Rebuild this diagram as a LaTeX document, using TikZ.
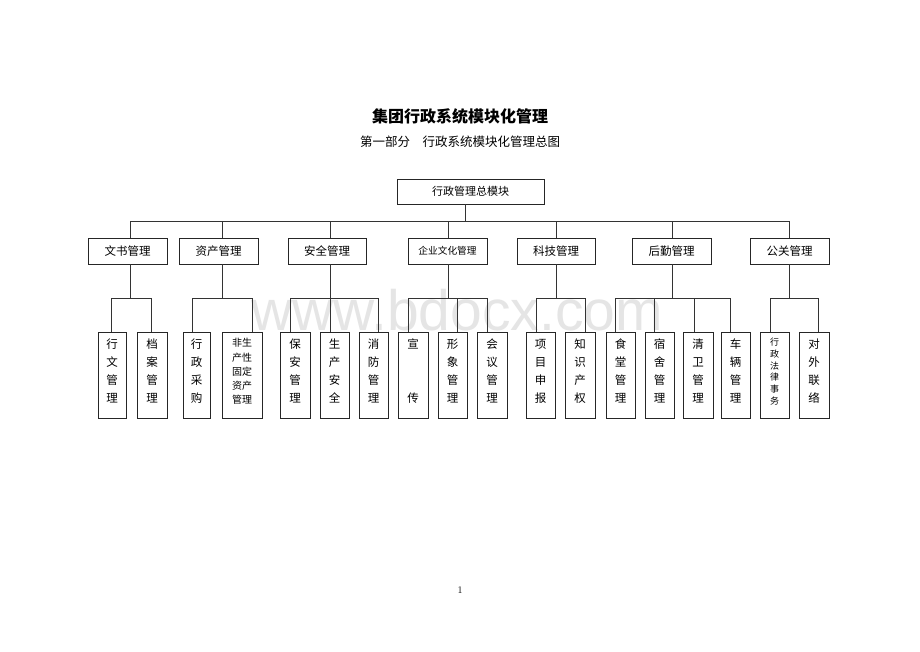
\documentclass[tikz,border=0pt]{standalone}
\usepackage{fontspec}
\newfontfamily\cjk{Noto Sans CJK SC}
\newfontfamily\wmfont{Liberation Sans}
\begin{document}
\begin{tikzpicture}[x=1pt,y=-1pt,
  box/.style={draw=black!85, line width=0.8pt, rectangle, inner sep=0pt},
  midbox/.style={box, minimum height=26, font=\cjk\fontsize{11.5}{12}\selectfont},
  leafbox/.style={box, minimum height=86},
  leaftext/.style={align=center, inner sep=0pt, font=\cjk\fontsize{11.5}{18}\selectfont},
  conn/.style={draw=black!80, line width=0.8pt}]
\useasboundingbox (0,0) rectangle (920,651);
\fill[white] (0,0) rectangle (920,651);
% watermark
\node[font=\wmfont\fontsize{57}{57}\selectfont, text=black!10, inner sep=0pt, anchor=base] (wm) at (457,330) {www.bdocx.com};
% titles
\node[font=\cjk\bfseries\fontsize{16}{16}\selectfont, inner sep=0pt] (title) at (460,116) {集团行政系统模块化管理};
\node[font=\cjk\fontsize{12.5}{13}\selectfont, inner sep=0pt] (subtitle) at (460,142) {第一部分\hspace{1em}行政系统模块化管理总图};
% top box
\node[box, minimum width=147, minimum height=25, font=\cjk\fontsize{11}{11}\selectfont] (top) at (470.5,191.5) {行政管理总模块};
\coordinate (bus) at (0,221);
\coordinate (sb) at (0,298);
% level 2
\node[midbox, minimum width=79] (wenshu) at (127.5,251) {文书管理};
\node[midbox, minimum width=79] (zichan) at (218.5,251) {资产管理};
\node[midbox, minimum width=78] (anquan) at (327,251) {安全管理};
\node[midbox, minimum width=79, font=\cjk\fontsize{9.7}{10}\selectfont] (wenhua) at (447.5,251) {企业文化管理};
\node[midbox, minimum width=78] (keji) at (556,251) {科技管理};
\node[midbox, minimum width=79] (houqin) at (671.5,251) {后勤管理};
\node[midbox, minimum width=79] (gongguan) at (789.5,251) {公关管理};
% leaves
\node[leafbox, minimum width=28] (w1) at (112,375) {};
\node[leafbox, minimum width=30] (w2) at (152,375) {};
\node[leafbox, minimum width=27] (z1) at (196.5,375) {};
\node[leafbox, minimum width=40] (z2) at (242,375) {};
\node[leafbox, minimum width=30] (a1) at (295,375) {};
\node[leafbox, minimum width=29] (a2) at (334.5,375) {};
\node[leafbox, minimum width=29] (a3) at (373.5,375) {};
\node[leafbox, minimum width=30] (c1) at (413,375) {};
\node[leafbox, minimum width=29] (c2) at (452.5,375) {};
\node[leafbox, minimum width=30] (c3) at (492,375) {};
\node[leafbox, minimum width=29] (k1) at (540.5,375) {};
\node[leafbox, minimum width=30] (k2) at (580,375) {};
\node[leafbox, minimum width=29] (h1) at (620.5,375) {};
\node[leafbox, minimum width=29] (h2) at (659.5,375) {};
\node[leafbox, minimum width=30] (h3) at (698,375) {};
\node[leafbox, minimum width=29] (h4) at (735.5,375) {};
\node[leafbox, minimum width=29] (g1) at (774.5,375) {};
\node[leafbox, minimum width=30] (g2) at (814,375) {};
% leaf texts
\node[leaftext] (w1t) at ([yshift=4pt]w1.center) {行\\文\\管\\理};
\node[leaftext] (w2t) at ([yshift=4pt]w2.center) {档\\案\\管\\理};
\node[leaftext] (z1t) at ([yshift=4pt]z1.center) {行\\政\\采\\购};
\node[leaftext, font=\cjk\fontsize{10}{14.3}\selectfont] (z2t) at ([yshift=3.5pt]z2.center) {非生\\产性\\固定\\资产\\管理};
\node[leaftext] (a1t) at ([yshift=4pt]a1.center) {保\\安\\管\\理};
\node[leaftext] (a2t) at ([yshift=4pt]a2.center) {生\\产\\安\\全};
\node[leaftext] (a3t) at ([yshift=4pt]a3.center) {消\\防\\管\\理};
\node[leaftext] (c1t) at ([yshift=4pt]c1.center) {宣\\[36pt]传};
\node[leaftext] (c2t) at ([yshift=4pt]c2.center) {形\\象\\管\\理};
\node[leaftext] (c3t) at ([yshift=4pt]c3.center) {会\\议\\管\\理};
\node[leaftext] (k1t) at ([yshift=4pt]k1.center) {项\\目\\申\\报};
\node[leaftext] (k2t) at ([yshift=4pt]k2.center) {知\\识\\产\\权};
\node[leaftext] (h1t) at ([yshift=4pt]h1.center) {食\\堂\\管\\理};
\node[leaftext] (h2t) at ([yshift=4pt]h2.center) {宿\\舍\\管\\理};
\node[leaftext] (h3t) at ([yshift=4pt]h3.center) {清\\卫\\管\\理};
\node[leaftext] (h4t) at ([yshift=4pt]h4.center) {车\\辆\\管\\理};
\node[leaftext, font=\cjk\fontsize{9}{11.8}\selectfont] (g1t) at ([yshift=3.5pt]g1.center) {行\\政\\法\\律\\事\\务};
\node[leaftext] (g2t) at ([yshift=4pt]g2.center) {对\\外\\联\\络};
% top connectors
\draw[conn] ([xshift=-5.5pt]top.south) -- ([xshift=-5.5pt]top.south |- bus);
\draw[conn] ([xshift=2.5pt]wenshu.north) |- ([xshift=-0.5pt]gongguan.north |- bus) -- ([xshift=-0.5pt]gongguan.north);
\draw[conn] ([xshift=3.5pt]zichan.north) -- ([xshift=3.5pt]zichan.north |- bus);
\draw[conn] ([xshift=3pt]anquan.north) -- ([xshift=3pt]anquan.north |- bus);
\draw[conn] ([xshift=0.5pt]wenhua.north) -- ([xshift=0.5pt]wenhua.north |- bus);
\draw[conn] (keji.north) -- (keji.north |- bus);
\draw[conn] ([xshift=0.5pt]houqin.north) -- ([xshift=0.5pt]houqin.north |- bus);
% wenshu group
\draw[conn] ([xshift=2.5pt]wenshu.south) -- ([xshift=2.5pt]wenshu.south |- sb);
\draw[conn] ([xshift=-1pt]w1.north) |- ([xshift=-1pt]w2.north |- sb) -- ([xshift=-1pt]w2.north);
% zichan group
\draw[conn] ([xshift=3.5pt]zichan.south) -- ([xshift=3.5pt]zichan.south |- sb);
\draw[conn] ([xshift=-4.5pt]z1.north) |- ([xshift=10pt]z2.north |- sb) -- ([xshift=10pt]z2.north);
% anquan group
\draw[conn] ([xshift=3pt]anquan.south) -- ([xshift=-4.5pt]a2.north);
\draw[conn] ([xshift=-5pt]a1.north) |- ([xshift=4.5pt]a3.north |- sb) -- ([xshift=4.5pt]a3.north);
% wenhua group
\draw[conn] ([xshift=0.5pt]wenhua.south) -- ([xshift=0.5pt]wenhua.south |- sb);
\draw[conn] ([xshift=-5pt]c1.north) |- ([xshift=-5pt]c3.north |- sb) -- ([xshift=-5pt]c3.north);
\draw[conn] ([xshift=4.5pt]c2.north) -- ([xshift=4.5pt]c2.north |- sb);
% keji group
\draw[conn] (keji.south) -- (keji.south |- sb);
\draw[conn] ([xshift=-4.5pt]k1.north) |- ([xshift=5pt]k2.north |- sb) -- ([xshift=5pt]k2.north);
% houqin group
\draw[conn] ([xshift=0.5pt]houqin.south) -- ([xshift=0.5pt]houqin.south |- sb);
\draw[conn] ([xshift=-5.5pt]h1.north) |- ([xshift=-5.5pt]h4.north |- sb) -- ([xshift=-5.5pt]h4.north);
\draw[conn] ([xshift=-5.5pt]h2.north) -- ([xshift=-5.5pt]h2.north |- sb);
\draw[conn] ([xshift=-4pt]h3.north) -- ([xshift=-4pt]h3.north |- sb);
% gongguan group
\draw[conn] ([xshift=-0.5pt]gongguan.south) -- ([xshift=-0.5pt]gongguan.south |- sb);
\draw[conn] ([xshift=-4.5pt]g1.north) |- ([xshift=4pt]g2.north |- sb) -- ([xshift=4pt]g2.north);
% page number
\node[font=\fontsize{10}{10}\selectfont, inner sep=0pt] (pnum) at (460,590) {1};
\end{tikzpicture}
\end{document}
